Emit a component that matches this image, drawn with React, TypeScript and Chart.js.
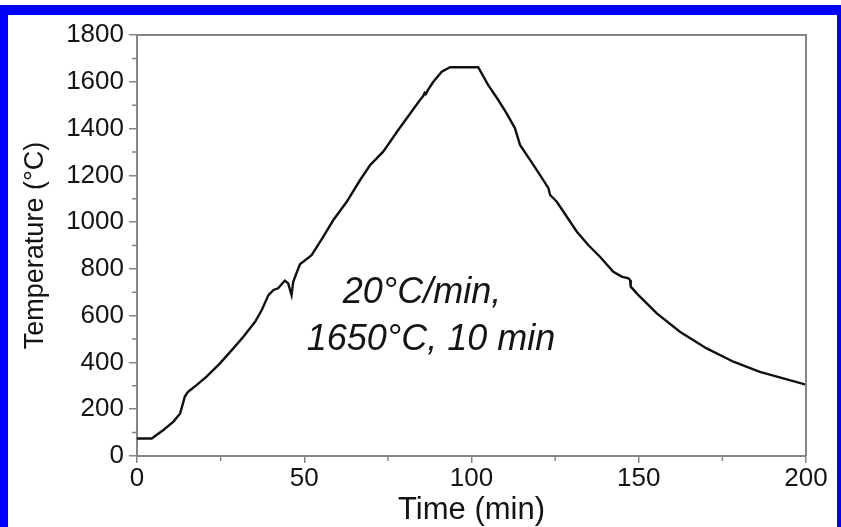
import React, { useEffect, useRef } from "react";
import { Chart, registerables } from "chart.js";

Chart.register(...registerables);

const timeMin = [0, 4.4, 7.9, 10.9, 12.9, 14.3, 15.3, 17.8, 20.8, 24.8, 28.8, 31.8, 35.3, 37.3, 39.3, 40.8, 42.2, 44.2, 45.2, 46.2, 46.7, 48.7, 52.2, 55.7, 58.7, 62.7, 66.7, 69.7, 73.6, 78.1, 84.6, 85.5, 86.0, 86.3, 87.0, 88.6, 91.1, 93.6, 102, 105, 108, 110.5, 113, 114.5, 117.5, 120.5, 123, 123.5, 125.5, 128.5, 131.5, 134.9, 138.4, 142.4, 144.9, 146.9, 147.4, 147.6, 149.9, 155.4, 162.3, 170.3, 178.3, 186.2, 193.2, 200];
const tempC = [75, 75, 111, 147, 182, 254, 275, 303, 339, 396, 460, 510, 574, 624, 688, 710, 717, 750, 738, 688, 745, 820, 859, 938, 1009, 1087, 1180, 1244, 1301, 1394, 1522, 1538, 1552, 1547, 1565, 1600, 1643, 1662, 1662, 1586, 1522, 1465, 1401, 1330, 1266, 1201, 1145, 1116, 1087, 1023, 959, 902, 852, 788, 767, 760, 752, 724, 688, 610, 531, 460, 403, 360, 332, 305];

const xMajorStep = 50;
const yMajorStep = 200;
const xMinorTicks = [25, 75, 125, 175];
const yMinorTicks = [100, 300, 500, 700, 900, 1100, 1300, 1500, 1700];

const annotationLines = ["20°C/min,", "1650°C, 10 min"];
const annotationX = [85.2, 87.9];
const annotationY = [654, 453];

const AXIS_COLOR = "#858585";
const TEXT_COLOR = "#141414";
const FONT = "'Liberation Sans', Arial, sans-serif";

export default function App() {
  const ref = useRef<HTMLCanvasElement | null>(null);

  useEffect(() => {
    const canvas = ref.current;
    if (!canvas) return;

    const extras = {
      id: "extras",
      afterDraw(chart: any) {
        const { ctx, chartArea, scales } = chart;
        const xs = scales.x;
        const ys = scales.y;
        ctx.save();
        ctx.strokeStyle = AXIS_COLOR;
        ctx.lineWidth = 2;
        ctx.beginPath();
        ctx.moveTo(chartArea.left, chartArea.top);
        ctx.lineTo(chartArea.right, chartArea.top);
        ctx.lineTo(chartArea.right, chartArea.bottom);
        ctx.stroke();
        ctx.lineWidth = 1.5;
        ctx.beginPath();
        xMinorTicks.forEach((v) => {
          const px = xs.getPixelForValue(v);
          ctx.moveTo(px, chartArea.bottom);
          ctx.lineTo(px, chartArea.bottom + 5);
        });
        yMinorTicks.forEach((v) => {
          const py = ys.getPixelForValue(v);
          ctx.moveTo(chartArea.left, py);
          ctx.lineTo(chartArea.left - 5, py);
        });
        ctx.stroke();
        ctx.fillStyle = TEXT_COLOR;
        ctx.font = `italic 36px ${FONT}`;
        ctx.textAlign = "center";
        ctx.textBaseline = "alphabetic";
        annotationLines.forEach((t, i) => {
          ctx.fillText(t, xs.getPixelForValue(annotationX[i]), ys.getPixelForValue(annotationY[i]));
        });
        ctx.restore();
      },
    };

    const chart = new Chart(canvas, {
      type: "line",
      data: {
        datasets: [
          {
            data: timeMin.map((t, i) => ({ x: t, y: tempC[i] })),
            borderColor: "#111111",
            borderWidth: 2.4,
            pointRadius: 0,
            tension: 0,
            fill: false,
          },
        ],
      },
      options: {
        animation: false,
        responsive: false,
        devicePixelRatio: 1,
        layout: { padding: { top: 35, right: 35, left: 0, bottom: 0 } },
        plugins: { legend: { display: false }, tooltip: { enabled: false } },
        scales: {
          x: {
            type: "linear",
            min: 0,
            max: 200,
            afterFit: (s: any) => {
              s.height = 71;
            },
            ticks: { stepSize: xMajorStep, color: TEXT_COLOR, font: { family: FONT, size: 26 }, padding: 0, maxRotation: 0, callback: (v: any) => String(v) },
            grid: { drawOnChartArea: false, drawTicks: true, tickLength: 7, color: AXIS_COLOR, lineWidth: 1.5 },
            border: { display: true, color: AXIS_COLOR, width: 2 },
            title: { display: true, text: "Time (min)", color: TEXT_COLOR, font: { family: FONT, size: 31 }, padding: { top: 0, bottom: -2 } },
          },
          y: {
            type: "linear",
            min: 0,
            max: 1800,
            afterFit: (s: any) => {
              s.width = 137;
            },
            ticks: { stepSize: yMajorStep, color: TEXT_COLOR, font: { family: FONT, size: 26 }, padding: 5, callback: (v: any) => String(v) },
            grid: { drawOnChartArea: false, drawTicks: true, tickLength: 8, color: AXIS_COLOR, lineWidth: 1.5 },
            border: { display: true, color: AXIS_COLOR, width: 2 },
            title: { display: true, text: "Temperature (°C)", color: TEXT_COLOR, font: { family: FONT, size: 27 }, padding: { top: 19, bottom: 0 } },
          },
        },
      },
      plugins: [extras],
    });
    return () => chart.destroy();
  }, []);

  return (
    <div style={{ position: "fixed", left: 0, top: 0, width: 841, height: 527, background: "#ffffff", overflow: "hidden" }}>
      <div
        style={{
          position: "absolute",
          left: 0,
          top: 5,
          width: 841,
          height: 600,
          boxSizing: "border-box",
          borderLeft: "8px solid #0000ff",
          borderTop: "10px solid #0000ff",
          borderRight: "4px solid #0000ff",
        }}
      />
      <canvas ref={ref} width={841} height={527} style={{ position: "absolute", left: 0, top: 0 }} />
    </div>
  );
}
